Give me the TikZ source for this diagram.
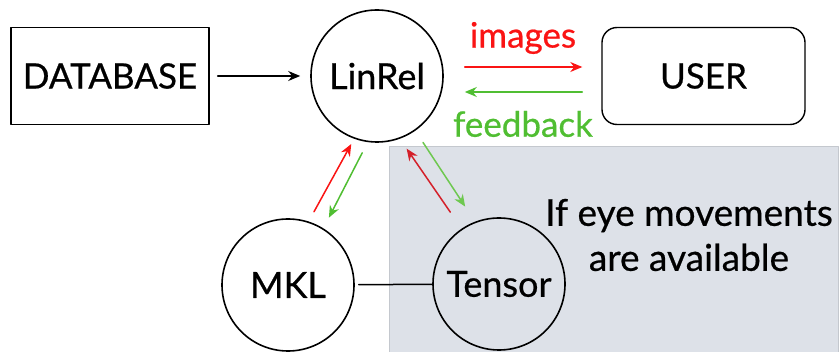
\documentclass[tikz,border=0pt]{standalone}
\usepackage{fontspec}
\setmainfont{Lato}[FakeBold=0.6]
\usepackage{xcolor}
\usepackage{tikz}
\usetikzlibrary{arrows.meta}
\definecolor{imgred}{RGB}{250,20,20}
\definecolor{fbgreen}{RGB}{80,190,50}
\definecolor{shadered}{RGB}{212,32,42}
\definecolor{shadegreen}{RGB}{110,200,80}
\definecolor{shadegrey}{RGB}{221,225,232}
\definecolor{shadeline}{RGB}{196,200,206}

\begin{document}
\begin{tikzpicture}[line cap=round,line join=round,x=1pt,y=-1pt,
  >={Stealth[length=12pt,width=10pt]},
  method/.style={circle,draw,line width=1.6pt,minimum size=132pt,inner sep=0pt,font=\fontsize{36}{40}\selectfont},
  block/.style={draw,line width=1.4pt,minimum width=198pt,minimum height=97pt,inner sep=0pt,font=\fontsize{35}{38}\selectfont},
  link/.style={line width=1.5pt},
  lbl/.style={font=\fontsize{35}{38}\selectfont}]
\useasboundingbox (0,0) rectangle (840,352);
\fill[shadegrey,draw=shadeline,line width=0.8pt] (389,146) rectangle (838,360);
\node[block] (db) at (110,76) {DATABASE};
\node[method] (linrel) at (377,76) {LinRel};
\node[block,rounded corners=15pt,minimum width=203pt] (user) at (703.5,76) {USER};
\node[method] (mkl) at (288,285) {MKL};
\node[method] (tensor) at (499,284) {Tensor};
\node[align=center,font=\fontsize{37}{45}\selectfont] (eye) at (689,235) {If eye movements\\are available};
\draw[link,->] (db) -- (linrel) [shorten <=8pt,shorten >=10pt];
\draw[link,->,imgred] ([yshift=9pt]linrel.east) -- ([yshift=9pt]user.west) [shorten <=21pt,shorten >=19pt];
\draw[link,->,fbgreen] ([yshift=-16pt]user.west) -- ([yshift=-16pt]linrel.east) [shorten <=19pt,shorten >=21pt];
\node[lbl,imgred] (images) at (523,38) {images};
\node[lbl,fbgreen] (feedback) at (523,124) {feedback};
\draw[link,->,imgred] (mkl.72) -- (linrel.250) [shorten <=11pt,shorten >=6pt];
\draw[link,->,fbgreen] (linrel.262) -- (mkl.58) [shorten <=12pt,shorten >=12pt];
\draw[link,->,shadered] (tensor.124) -- (linrel.290) [shorten <=20pt,shorten >=12pt];
\draw[link,->,shadegreen] (linrel.305) -- (tensor.111) [shorten <=14pt,shorten >=18pt];
\draw[link] (mkl) -- (tensor) [shorten <=4pt];
\end{tikzpicture}
\end{document}
